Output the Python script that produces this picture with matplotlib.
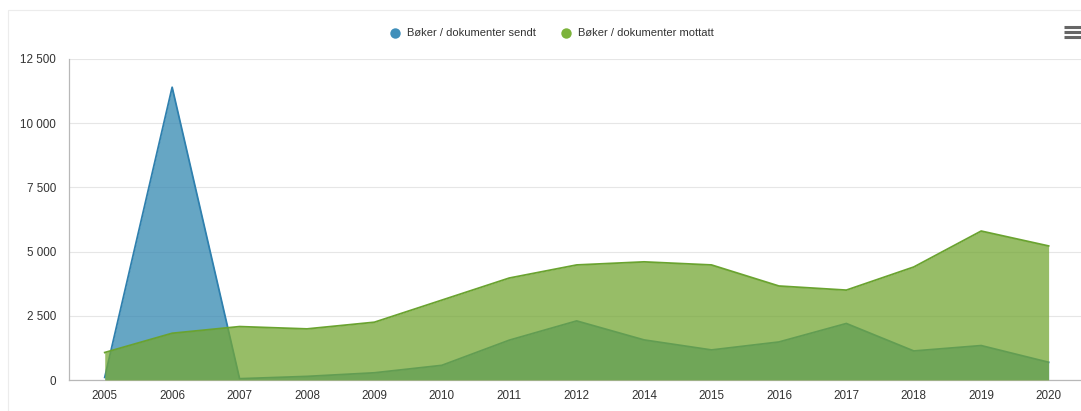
import matplotlib
matplotlib.use("Agg")
import matplotlib.pyplot as plt
from matplotlib.patches import Rectangle
from matplotlib.lines import Line2D

years = ["2005", "2006", "2007", "2008", "2009", "2010", "2011", "2012",
         "2014", "2015", "2016", "2017", "2018", "2019", "2020"]
sendt = [100, 11400, 50, 140, 280, 570, 1550, 2300, 1560, 1170, 1480, 2200, 1130, 1340, 690]
mottatt = [1070, 1820, 2080, 1990, 2250, 3110, 3970, 4480, 4600, 4480, 3660, 3500, 4400, 5800, 5220]
yticks = [0, 2500, 5000, 7500, 10000, 12500]
ytick_labels = ["0", "2 500", "5 000", "7 500", "10 000", "12 500"]
legend_labels = ["Bøker / dokumenter sendt", "Bøker / dokumenter mottatt"]

plt.rcParams['font.family'] = ['Liberation Sans', 'DejaVu Sans']

W, H = 1081, 411
fig = plt.figure(figsize=(W / 100, H / 100), dpi=100)
fig.patch.set_facecolor("white")

# container border
fig.add_artist(Rectangle((8 / W, -0.1), 1.2, (H - 10) / H + 0.1, transform=fig.transFigure,
                         fill=False, edgecolor="#ececec", linewidth=0.8))

left, bottom, top = 69, 380, 59
ax = fig.add_axes([left / W, (H - bottom) / H, (1083 - left) / W, (bottom - top) / H])
x = list(range(len(years)))

blue_line = "#2f80ae"
blue_fill = "#3388b1"
green_line = "#6aa330"
green_fill = "#74a734"

ax.fill_between(x, 0, sendt, color=blue_fill, alpha=0.75, linewidth=0, zorder=2)
ax.plot(x, sendt, color=blue_line, linewidth=1.3, zorder=2.1)
ax.fill_between(x, 0, mottatt, color=green_fill, alpha=0.75, linewidth=0, zorder=3)
ax.plot(x, mottatt, color=green_line, linewidth=1.3, zorder=3.1)

ax.set_xlim(-0.53, len(years) - 1 + 0.51)
ax.set_ylim(0, 12500)
ax.set_yticks(yticks)
ax.set_yticklabels(ytick_labels)
ax.set_xticks(x)
ax.set_xticklabels(years)
ax.tick_params(axis="both", length=0, labelsize=8.4, colors="#333333")
ax.tick_params(axis="y", pad=9.5)
ax.tick_params(axis="x", pad=7)
ax.grid(axis="y", color="#e6e6e6", linewidth=0.8, zorder=0)
ax.set_axisbelow(True)
for s in ["top", "right"]:
    ax.spines[s].set_visible(False)
ax.spines["left"].set_color("#b8b8b8")
ax.spines["bottom"].set_color("#b8b8b8")
ax.spines["left"].set_linewidth(0.9)
ax.spines["bottom"].set_linewidth(0.9)

# legend
ly = 1 - 33 / H
for cx, tx, col, lab in [(395, 407, "#3f8fba", legend_labels[0]), (566, 578, "#7cb33b", legend_labels[1])]:
    fig.add_artist(Line2D([cx / W], [ly], marker="o", markersize=7.5, color=col,
                          markeredgewidth=0, transform=fig.transFigure))
    fig.text(tx / W, ly, lab, fontsize=8, color="#333333", va="center", ha="left")

# menu icon
for yy in [27, 32, 37]:
    fig.add_artist(Line2D([1064 / W, 1081 / W], [1 - yy / H, 1 - yy / H], color="#666666",
                          linewidth=2.2, transform=fig.transFigure, solid_capstyle="butt"))

fig.savefig("out.png", dpi=100)
